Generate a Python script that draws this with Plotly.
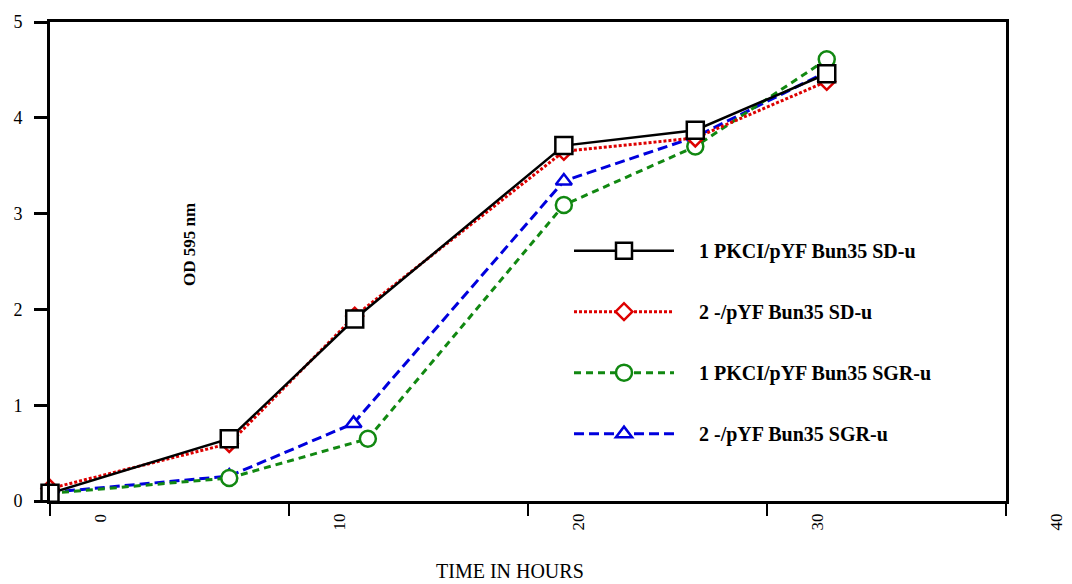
import plotly.graph_objects as go

# ---- data ----
series_names = [
    "1 PKCI/pYF Bun35 SD-u",
    "2 -/pYF Bun35 SD-u",
    "1 PKCI/pYF Bun35 SGR-u",
    "2 -/pYF Bun35 SGR-u",
]
x_pkci_sd = [0, 7.5, 12.75, 21.5, 27.0, 32.5]
y_pkci_sd = [0.08, 0.65, 1.90, 3.71, 3.87, 4.46]

x_neg_sd = [0, 7.5, 12.75, 21.5, 27.0, 32.5]
y_neg_sd = [0.13, 0.60, 1.93, 3.65, 3.79, 4.38]

x_pkci_sgr = [0, 7.5, 13.3, 21.5, 27.0, 32.5]
y_pkci_sgr = [0.08, 0.24, 0.65, 3.09, 3.70, 4.61]

x_neg_sgr = [0, 7.5, 12.7, 21.5, 27.0, 32.5]
y_neg_sgr = [0.09, 0.26, 0.81, 3.34, 3.80, 4.48]

x_range = [0, 40]
x_tick_values = [0, 10, 20, 30, 40]
x_tick_labels = ["0", "10", "20", "30", "40"]
y_tick_values = [0, 1, 2, 3, 4, 5]
y_tick_labels = ["0", "1", "2", "3", "4", "5"]

SERIF = "Liberation Serif, Times New Roman, serif"
PAD = "\u00a0\u00a0\u00a0\u00a0"

fig = go.Figure()

styles = [
    # name, x, y, color, dash, width, symbol, size, rank
    (series_names[3], x_neg_sgr, y_neg_sgr, "#0000dd", "10px,5px", 3, "triangle-up", 14, 4),
    (series_names[2], x_pkci_sgr, y_pkci_sgr, "#118811", "7px,5px", 3, "circle", 16, 3),
    (series_names[1], x_neg_sd, y_neg_sd, "#dd0000", "3px,2px", 3, "diamond", 13, 2),
    (series_names[0], x_pkci_sd, y_pkci_sd, "#000000", "solid", 2.5, "square", 17, 1),
]
for i, (name, xs, ys, col, dash, w, sym, sz, rank) in enumerate(styles):
    fig.add_trace(go.Scatter(
        x=xs, y=ys, name=PAD + name, mode="lines+markers",
        line=dict(color=col, width=w, dash=dash),
        marker=dict(symbol=sym, size=sz, color="white",
                    line=dict(color=col, width=2.5)),
        cliponaxis=False, legendgroup=str(i), legendrank=rank,
    ))

# x tick labels sit ~50px right of their tick marks, rotated
annotations = []
for v, t in zip(x_tick_values, x_tick_labels):
    annotations.append(dict(
        x=(v - x_range[0]) / (x_range[1] - x_range[0]), xref="paper", xshift=50,
        y=0, yref="paper", yanchor="top", xanchor="center",
        yshift=-11, text=t, textangle=-90, showarrow=False,
        font=dict(family=SERIF, size=17, color="black"),
    ))
annotations.append(dict(
    x=(189 - 50) / 956, y=(501 - 244) / 481, xref="paper", yref="paper",
    xanchor="center", yanchor="middle",
    text="<b>OD 595 nm</b>", textangle=-90, showarrow=False,
    font=dict(family=SERIF, size=17, color="black"),
))
annotations.append(dict(
    x=(510 - 50) / 956, y=(501 - 571) / 481, xref="paper", yref="paper",
    xanchor="center", yanchor="middle",
    text="TIME IN HOURS", showarrow=False,
    font=dict(family=SERIF, size=20, color="black"),
))

fig.update_layout(
    width=1072, height=584,
    margin=dict(l=50, r=66, t=20, b=83),
    paper_bgcolor="white", plot_bgcolor="white",
    showlegend=True,
    legend=dict(
        x=(569 - 50) / 956, y=(501 - 230) / 481, xanchor="left", yanchor="top",
        traceorder="grouped", tracegroupgap=32, itemwidth=100,
        font=dict(family=SERIF, size=20, color="black", weight="bold"),
        bgcolor="rgba(0,0,0,0)",
    ),
    xaxis=dict(
        range=x_range, tickvals=x_tick_values, showticklabels=False,
        ticks="outside", ticklen=12, tickwidth=2, tickcolor="black",
        showline=True, linewidth=3, linecolor="black", mirror=True,
        showgrid=False, zeroline=False,
    ),
    yaxis=dict(
        range=[0, 5], tickvals=y_tick_values, ticktext=y_tick_labels,
        ticks="outside", ticklen=13, tickwidth=3, tickcolor="black",
        showline=True, linewidth=3, linecolor="black", mirror=True,
        showgrid=False, zeroline=False, ticklabelstandoff=8,
        tickfont=dict(family=SERIF, size=18, color="black"),
    ),
    annotations=annotations,
)

fig.write_html(
    "out.html",
    config={"displayModeBar": False},
    post_script="document.body.style.margin='0';document.body.style.overflow='hidden';",
)
